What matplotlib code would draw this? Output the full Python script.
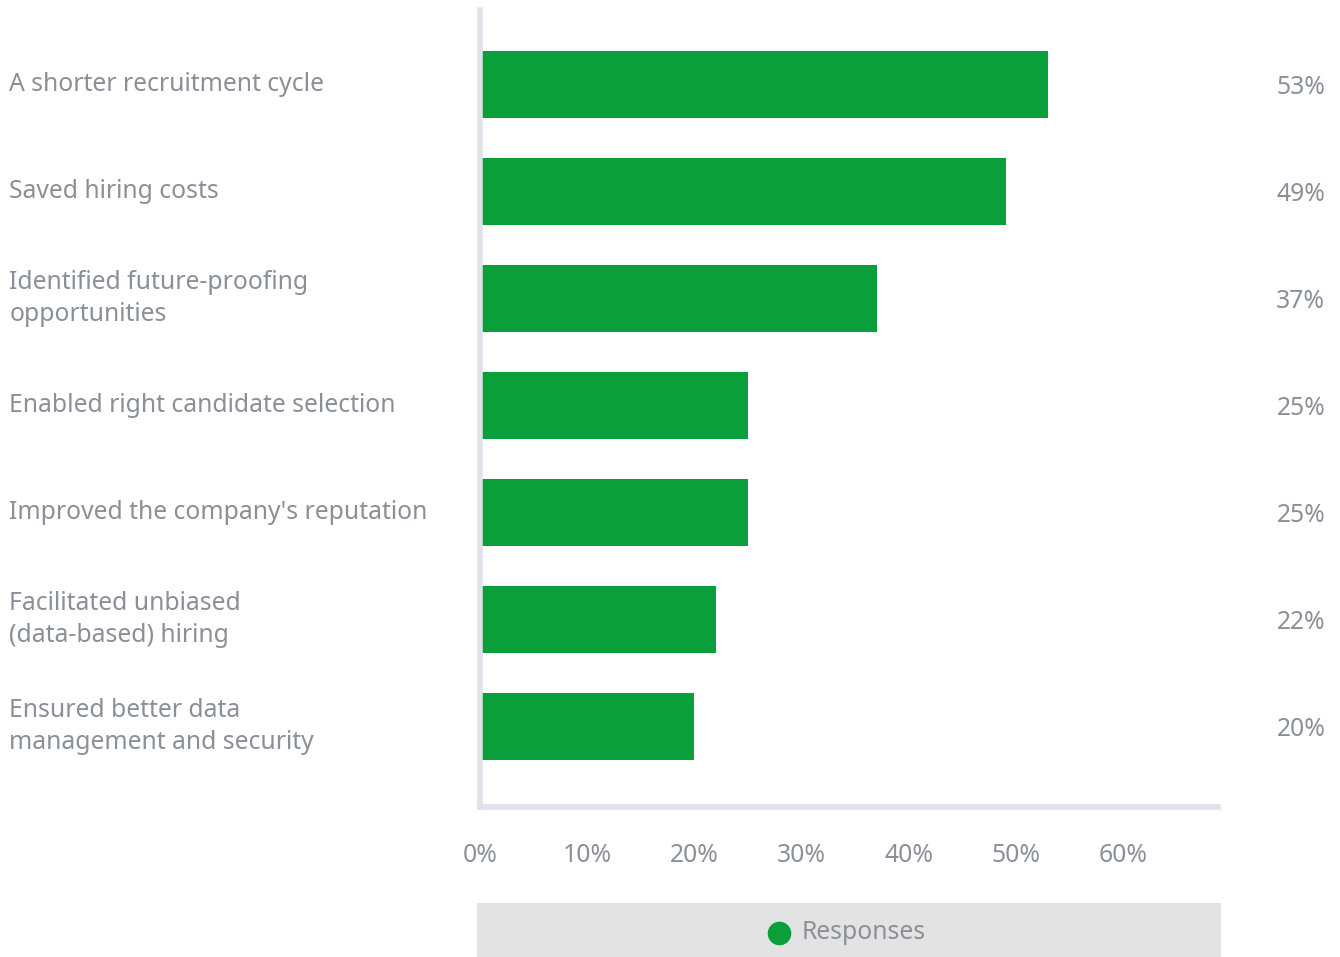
import matplotlib.pyplot as plt
from matplotlib.patches import Rectangle
from matplotlib.transforms import blended_transform_factory

# data
categories = ['A shorter recruitment cycle',
              'Saved hiring costs',
              'Identified future-proofing\nopportunities',
              'Enabled right candidate selection',
              "Improved the company's reputation",
              'Facilitated unbiased\n(data-based) hiring',
              'Ensured better data\nmanagement and security']
responses = [53, 49, 37, 25, 25, 22, 20]
ticks = [0, 10, 20, 30, 40, 50, 60]

green = '#0a9f3b'
grey_text = '#8a8f98'
axis_grey = '#dfe2e8'
fs = 17.8

plt.rcParams['font.family'] = ['Noto Sans', 'DejaVu Sans']

fig = plt.figure(figsize=(13.4, 9.57), dpi=100)
ax = fig.add_axes([0.358, 0.157, 0.551, 0.833])

pos = list(range(len(categories)))
ax.barh(pos, responses, height=0.63, color=green)
ax.set_ylim(6.75, -0.70)
ax.set_xlim(0, 68.8)

for s in ['top', 'right']:
    ax.spines[s].set_visible(False)
for s in ['left', 'bottom']:
    ax.spines[s].set_color(axis_grey)
    ax.spines[s].set_linewidth(4)

ax.set_yticks([])
ax.set_xticks(ticks)
ax.set_xticklabels([f'{t}%' for t in ticks], fontsize=fs, color=grey_text)
ax.tick_params(axis='x', length=0, pad=26)

# category names at the far left, values at the far right
tr = blended_transform_factory(fig.transFigure, ax.transData)
for y, name, v in zip(pos, categories, responses):
    ax.text(0.007, y, name, transform=tr, ha='left', va='center',
            fontsize=fs, color=grey_text, linespacing=1.4)
    ax.text(0.989, y + 0.03, f'{v}%', transform=tr, ha='right', va='center',
            fontsize=fs, color=grey_text)

# legend strip
fig.patches.append(Rectangle((0.356, 0.0), 0.555, 0.0565, transform=fig.transFigure,
                             facecolor='#e3e3e3', edgecolor='none', zorder=0))
fig.lines.append(plt.Line2D([0.5815], [0.0255], transform=fig.transFigure, marker='o',
                            markersize=16, color=green, linestyle='none'))
fig.text(0.598, 0.0255, 'Responses', ha='left', va='center', fontsize=fs, color=grey_text)

fig.savefig('out.png', dpi=100)
